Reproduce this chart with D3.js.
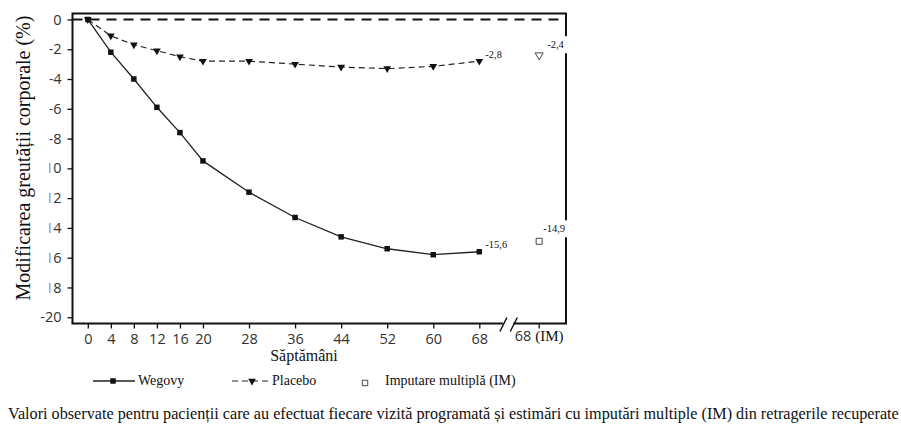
<!DOCTYPE html>
<html>
<head>
<meta charset="utf-8">
<script src="https://cdn.jsdelivr.net/npm/d3@7"></script>
<style>
body { margin: 0; background: #fff; }
svg { display: block; }
.tick text { font-family: "Open Sans", sans-serif; font-size: 14.5px; fill: #333; }
.serif { font-family: "Liberation Serif", "Times New Roman", serif; fill: #111; }
</style>
</head>
<body>
<div id="container"></div>
<script>
// data
var weeks = [0, 4, 8, 12, 16, 20, 28, 36, 44, 52, 60, 68];
var wegovy = [0, -2.2, -4.0, -5.9, -7.6, -9.5, -11.6, -13.3, -14.6, -15.4, -15.8, -15.6];
var placebo = [0, -1.1, -1.7, -2.1, -2.5, -2.8, -2.8, -3.0, -3.2, -3.3, -3.15, -2.8];
var imWegovy = -14.9;
var imPlacebo = -2.4;
var yTicks = [0, -2, -4, -6, -8, -10, -12, -14, -16, -18, -20];
var imTickLabel = ["68", "(IM)"];

// texts
var yTitle = "Modificarea greutății corporale (%)";
var xTitle = "Săptămâni";
var legendNames = ["Wegovy", "Placebo", "Imputare multiplă (IM)"];
var caption = "Valori observate pentru pacienții care au efectuat fiecare vizită programată și estimări cu imputări multiple (IM) din retragerile recuperate";

// layout
var canvasX = 901;
var canvasY = 431;
var plotLeft = 72.5, plotRight = 566, plotTop = 13.5, plotBottom = 323.5;
var xDomain = [-2.66, 83.06];
var yDomain = [-20.42, 0.4];
var imPos = 78.4;          // place of the "68 (IM)" column on the week axis
var breakFrom = 72.1, breakTo = 73.9;

var svg = d3.select("#container")
            .append("svg")
            .attr("width", canvasX)
            .attr("height", canvasY);

var x = d3.scaleLinear().domain(xDomain).range([plotLeft, plotRight]);
var y = d3.scaleLinear().domain(yDomain).range([plotBottom, plotTop]);

// format with comma decimals
function comma(v) {
    return v.toFixed(1).replace(".", ",");
}

// y axis
var yAxis = svg.append("g")
               .attr("transform", "translate(" + plotLeft + ",0)")
               .call(d3.axisLeft(y).tickValues(yTicks).tickSize(5).tickPadding(6)
                       .tickFormat(function(d) { return String(d); }));
yAxis.select(".domain").remove();
yAxis.selectAll(".tick line").attr("stroke", "#111").attr("stroke-width", 1.3);

// x axis
var xAxis = svg.append("g")
               .attr("transform", "translate(0," + plotBottom + ")")
               .call(d3.axisBottom(x).tickValues(weeks).tickSize(5).tickPadding(5)
                       .tickFormat(function(d) { return String(d); }));
xAxis.select(".domain").remove();
xAxis.selectAll(".tick line").attr("stroke", "#111").attr("stroke-width", 1.3);

// extra tick for the imputed column
xAxis.append("line")
     .attr("x1", x(imPos)).attr("x2", x(imPos))
     .attr("y1", 0).attr("y2", 5)
     .attr("stroke", "#111").attr("stroke-width", 1.3);
var imText = xAxis.append("text")
     .attr("x", x(imPos))
     .attr("y", 10)
     .attr("dy", "0.71em")
     .attr("text-anchor", "middle");
imText.append("tspan")
      .style("font-family", "'Open Sans', sans-serif")
      .style("font-size", "14.5px")
      .attr("fill", "#333")
      .text(imTickLabel[0] + " ");
imText.append("tspan")
      .attr("class", "serif")
      .style("font-size", "15px")
      .text(imTickLabel[1]);

// frame: left, top, right
svg.append("path")
   .attr("d", "M" + plotLeft + "," + plotBottom + "V" + plotTop + "H" + plotRight + "V" + plotBottom)
   .attr("fill", "none")
   .attr("stroke", "#111")
   .attr("stroke-width", 2);

// bottom line with a break
svg.append("line")
   .attr("x1", plotLeft - 1).attr("x2", x(breakFrom))
   .attr("y1", plotBottom).attr("y2", plotBottom)
   .attr("stroke", "#111").attr("stroke-width", 2);
svg.append("line")
   .attr("x1", x(breakTo)).attr("x2", plotRight + 1)
   .attr("y1", plotBottom).attr("y2", plotBottom)
   .attr("stroke", "#111").attr("stroke-width", 2);
[breakFrom, breakTo].forEach(function(b) {
    svg.append("line")
       .attr("x1", x(b) - 3).attr("y1", plotBottom + 8)
       .attr("x2", x(b) + 4).attr("y2", plotBottom - 6)
       .attr("stroke", "#111").attr("stroke-width", 1.5);
});

// zero reference line
svg.append("line")
   .attr("x1", plotLeft).attr("x2", plotRight)
   .attr("y1", y(0)).attr("y2", y(0))
   .attr("stroke", "#111")
   .attr("stroke-width", 2)
   .attr("stroke-dasharray", "10,7");

// lines
var line = d3.line()
             .x(function(d) { return x(d[0]); })
             .y(function(d) { return y(d[1]); });

svg.append("path")
   .datum(d3.zip(weeks, placebo))
   .attr("d", line)
   .attr("fill", "none")
   .attr("stroke", "#222")
   .attr("stroke-width", 1.2)
   .attr("stroke-dasharray", "6,4");

svg.append("path")
   .datum(d3.zip(weeks, wegovy))
   .attr("d", line)
   .attr("fill", "none")
   .attr("stroke", "#222")
   .attr("stroke-width", 1.3);

// markers
var sq = d3.symbol().type(d3.symbolSquare).size(30);
var tri = d3.symbol().type(d3.symbolTriangle).size(26);

svg.append("g").selectAll("path")
   .data(d3.zip(weeks, placebo))
   .enter()
   .append("path")
   .attr("d", tri)
   .attr("transform", function(d) {
       return "translate(" + x(d[0]) + "," + y(d[1]) + ") rotate(180)";
   })
   .attr("fill", "#111");

svg.append("g").selectAll("path")
   .data(d3.zip(weeks, wegovy))
   .enter()
   .append("path")
   .attr("d", sq)
   .attr("transform", function(d) {
       return "translate(" + x(d[0]) + "," + y(d[1]) + ")";
   })
   .attr("fill", "#111");

// value labels
function valueLabel(px, py, dx, dy, txt, boxed) {
    var g = svg.append("g");
    var t = g.append("text")
             .attr("class", "serif")
             .attr("x", px + dx)
             .attr("y", py + dy)
             .style("font-size", "10.5px")
             .text(txt);
    if (boxed) {
        var bb = t.node().getBBox();
        g.insert("rect", "text")
         .attr("x", bb.x - 3)
         .attr("y", bb.y - 3)
         .attr("width", bb.width + 9)
         .attr("height", bb.height + 6)
         .attr("fill", "#fff");
    }
}
var last = weeks.length - 1;
valueLabel(x(weeks[last]), y(placebo[last]), 6, -3, comma(placebo[last]), false);
valueLabel(x(weeks[last]), y(wegovy[last]), 6, -4, comma(wegovy[last]), false);
valueLabel(x(imPos), y(imPlacebo), 8, -7, comma(imPlacebo), true);
valueLabel(x(imPos), y(imWegovy), 4, -9, comma(imWegovy), true);

// imputed markers (open)
svg.append("path")
   .attr("d", d3.symbol().type(d3.symbolTriangle).size(28))
   .attr("transform", "translate(" + x(imPos) + "," + y(imPlacebo) + ") rotate(180)")
   .attr("fill", "#fff").attr("stroke", "#333").attr("stroke-width", 0.9);
svg.append("path")
   .attr("d", d3.symbol().type(d3.symbolSquare).size(36))
   .attr("transform", "translate(" + x(imPos) + "," + y(imWegovy) + ")")
   .attr("fill", "#fff").attr("stroke", "#333").attr("stroke-width", 0.9);

// y title, its white box hides part of the tick labels like in the source
svg.append("rect")
   .attr("x", 0).attr("y", 12)
   .attr("width", 49.5).attr("height", 293)
   .attr("fill", "#fff");
svg.append("text")
   .attr("class", "serif")
   .attr("transform", "translate(30,158) rotate(-90)")
   .attr("text-anchor", "middle")
   .style("font-size", "20px")
   .text(yTitle);

// x title
svg.append("text")
   .attr("class", "serif")
   .attr("x", 304)
   .attr("y", 361)
   .attr("text-anchor", "middle")
   .style("font-size", "16px")
   .text(xTitle);

// legend
var ly = 381;
svg.append("line").attr("x1", 93).attr("x2", 135).attr("y1", ly).attr("y2", ly)
   .attr("stroke", "#222").attr("stroke-width", 1.3);
svg.append("path").attr("d", sq).attr("transform", "translate(113," + ly + ")").attr("fill", "#111");
svg.append("line").attr("x1", 232).attr("x2", 268).attr("y1", ly).attr("y2", ly)
   .attr("stroke", "#222").attr("stroke-width", 1.2).attr("stroke-dasharray", "6,4");
svg.append("path").attr("d", tri).attr("transform", "translate(252," + ly + ") rotate(180)").attr("fill", "#111");
svg.append("path").attr("d", d3.symbol().type(d3.symbolSquare).size(30))
   .attr("transform", "translate(365," + (ly + 2) + ")")
   .attr("fill", "#fff").attr("stroke", "#333").attr("stroke-width", 0.9);

var legendX = [138, 272, 385];
svg.selectAll(".legText")
   .data(legendNames)
   .enter()
   .append("text")
   .attr("class", "serif legText")
   .attr("x", function(d, i) { return legendX[i]; })
   .attr("y", ly + 4)
   .style("font-size", "14px")
   .text(function(d) { return d; });

// caption
svg.append("text")
   .attr("class", "serif")
   .attr("x", 8)
   .attr("y", 419)
   .style("font-size", "16.2px")
   .text(caption);
</script>
</body>
</html>
